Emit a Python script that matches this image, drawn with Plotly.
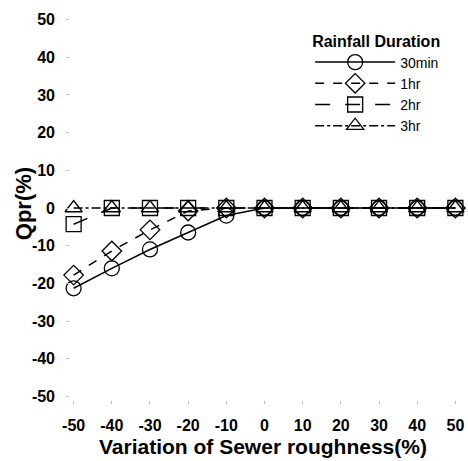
import plotly.graph_objects as go

x_vals = [-50, -40, -30, -20, -10, 0, 10, 20, 30, 40, 50]
q_30min = [-21.3, -16.0, -11.0, -6.5, -2.0, 0, 0, 0, 0, 0, 0]
q_1hr = [-17.8, -11.4, -5.8, -0.8, 0, 0, 0, 0, 0, 0, 0]
q_2hr = [-4.3, 0, 0, 0, 0, 0, 0, 0, 0, 0, 0]
q_3hr = [0, 0, 0, 0, 0, 0, 0, 0, 0, 0, 0]
series_names = ["30min", "1hr", "2hr", "3hr"]
tick_vals = [-50, -40, -30, -20, -10, 0, 10, 20, 30, 40, 50]

styles = [
    ("solid", "circle-open"),
    ("dash", "diamond-open"),
    ("longdash", "square-open"),
    ("dashdot", "triangle-up-open"),
]

fig = go.Figure()
for name, ys, (dash, sym) in zip(series_names, [q_30min, q_1hr, q_2hr, q_3hr], styles):
    fig.add_trace(go.Scatter(
        x=x_vals, y=ys, name=name, mode="lines+markers",
        line=dict(color="black", width=1.5, dash=dash),
        marker=dict(symbol=sym, size=15, color="black", line=dict(width=1.3, color="black")),
        cliponaxis=False,
    ))

font_family = "Liberation Sans, Arial, sans-serif"
fig.update_layout(
    width=468, height=461,
    margin=dict(l=66, r=5, t=12, b=57),
    paper_bgcolor="white", plot_bgcolor="white",
    font=dict(family=font_family, color="black"),
    showlegend=True,
    legend=dict(
        title=dict(text="<b>Rainfall Duration</b>", font=dict(size=16)),
        x=0.615, y=0.965, xanchor="left", yanchor="top",
        font=dict(size=14), bgcolor="rgba(0,0,0,0)", tracegroupgap=0,
        itemwidth=80,
    ),
    xaxis=dict(
        range=[-52, 52], tickvals=tick_vals, ticktext=[f"<b>{v}</b>" for v in tick_vals],
        showgrid=False, zeroline=False, showline=False,
        ticks="inside", ticklen=3, tickcolor="#bbbbbb",
        tickfont=dict(size=16), ticklabelstandoff=10,
    ),
    yaxis=dict(
        range=[-52, 52], tickvals=tick_vals, ticktext=[f"<b>{v}</b>" for v in tick_vals],
        showgrid=False, zeroline=False, showline=False,
        ticks="inside", ticklen=3, tickcolor="#bbbbbb",
        tickfont=dict(size=16), ticklabelstandoff=10,
    ),
    annotations=[
        dict(text="<b>Variation of Sewer roughness(%)</b>", xref="paper", yref="paper",
             x=0.497, y=-0.108, xanchor="center", yanchor="middle", showarrow=False,
             font=dict(size=21)),
        dict(text="<b>Qpr(%)</b>", xref="paper", yref="paper", textangle=-90,
             x=-0.108, y=0.51, xanchor="center", yanchor="middle", showarrow=False,
             font=dict(size=22)),
    ],
)

fig.write_html("out.html")
